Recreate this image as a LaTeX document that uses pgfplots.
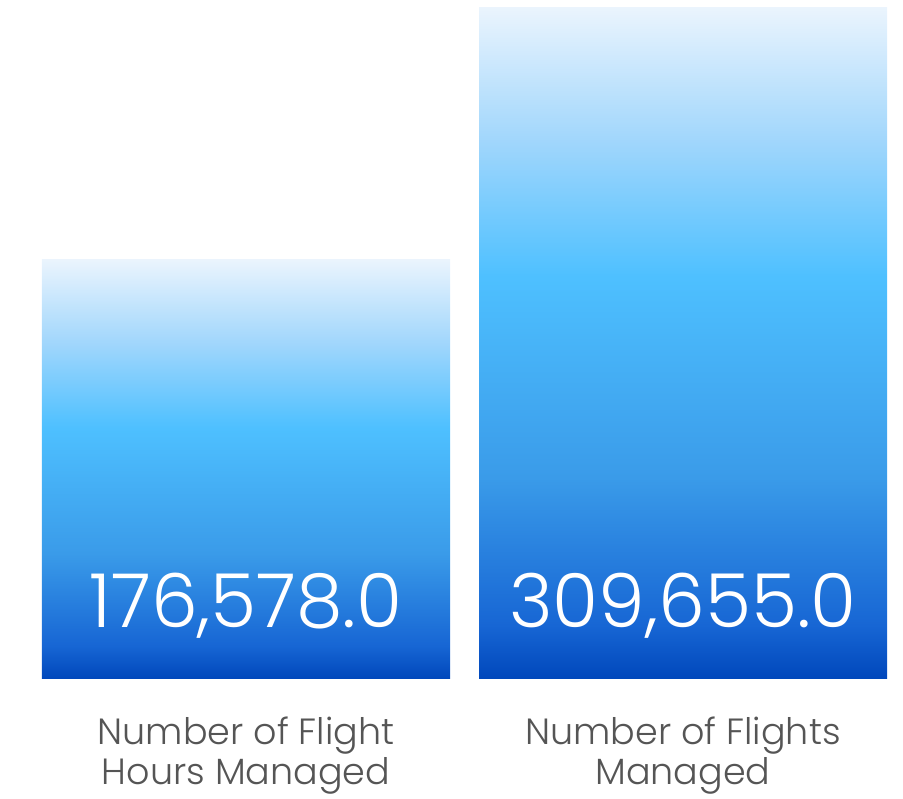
\documentclass[border=0pt]{standalone}
\usepackage{pgfplots}
\pgfplotsset{compat=1.18}
\usepackage{fontspec}
\setmainfont{Poppins Light}
\definecolor{labgray}{HTML}{555555}
\definecolor{cA}{HTML}{0047BB}
\definecolor{cB}{HTML}{1766D4}
\definecolor{cC}{HTML}{3A9BE9}
\definecolor{cD}{HTML}{4EC0FF}
\definecolor{cE}{HTML}{A0D6FC}
\definecolor{cF}{HTML}{EAF4FD}
\pgfdeclareverticalshading{barshade}{100bp}{color(0bp)=(cA); color(25bp)=(cA); color(29bp)=(cB); color(40bp)=(cC); color(55bp)=(cD); color(65bp)=(cE); color(75bp)=(cF); color(100bp)=(cF)}
\pgfplotstableread{
x v
0 176578
}\barone
\pgfplotstableread{
x v
1 309655
}\bartwo
\begin{document}
\begin{tikzpicture}
\begin{axis}[
  scale only axis, width=845pt, height=671pt,
  xmin=-0.46682, xmax=1.46682, ymin=0, ymax=354345,
  axis lines=none, ticks=none, clip=false,
  ybar, bar width=408pt,
  y filter/.expression={y+44690},
]
\addplot[ybar, bar shift=0pt, draw=none, shading=barshade] table[x=x,y=v] {\barone};
\addplot[ybar, bar shift=0pt, draw=none, shading=barshade] table[x=x,y=v] {\bartwo};
\node[anchor=base, text=white, font=\fontsize{74.5}{80}\selectfont] at (axis cs:0,0) [yshift=51pt] {176,578.0};
\node[anchor=base, text=white, font=\fontsize{74.5}{80}\selectfont] at (axis cs:1,0) [yshift=51pt] {309,655.0};
\node[anchor=base, text=labgray, font=\fontsize{36.5}{40}\selectfont] at (axis cs:0,0) [yshift=-66pt] {Number of Flight};
\node[anchor=base, text=labgray, font=\fontsize{36.5}{40}\selectfont] at (axis cs:0,0) [yshift=-106pt] {Hours Managed};
\node[anchor=base, text=labgray, font=\fontsize{36.5}{40}\selectfont] at (axis cs:1,0) [yshift=-66pt] {Number of Flights};
\node[anchor=base, text=labgray, font=\fontsize{36.5}{40}\selectfont] at (axis cs:1,0) [yshift=-106pt] {Managed};
\path (rel axis cs:0,0) ++(-42pt,-114pt) coordinate (bl);
\path (rel axis cs:1,1) ++(16pt,8pt) coordinate (tr);
\end{axis}
\useasboundingbox (bl) rectangle (tr);
\end{tikzpicture}
\end{document}
